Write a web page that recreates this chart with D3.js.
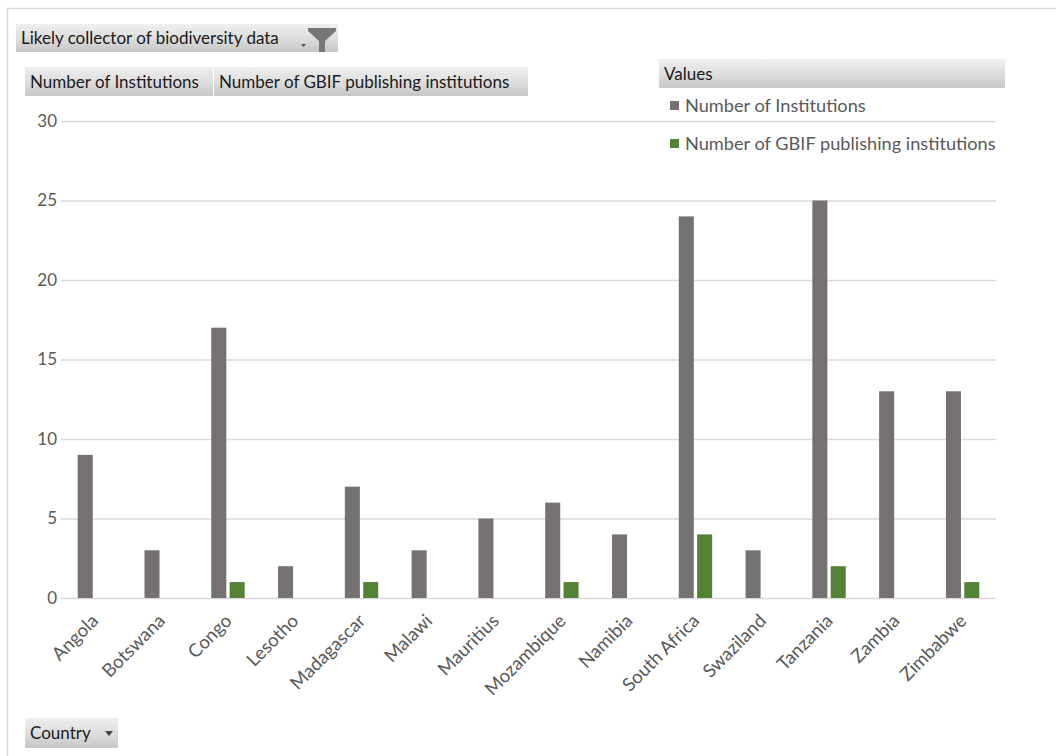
<!DOCTYPE html>
<html>
<head>
<meta charset="utf-8">
<script src="https://cdn.jsdelivr.net/npm/d3@7"></script>
<style>
  html, body { margin: 0; padding: 0; background: #fff; }
  svg { display: block; font-family: Lato, "Open Sans", sans-serif; }
</style>
</head>
<body>
<svg id="chart" width="1056" height="756"></svg>
<script>
// Institutions per country, split by whether they publish to GBIF
const countries = ["Angola", "Botswana", "Congo", "Lesotho", "Madagascar", "Malawi", "Mauritius",
  "Mozambique", "Namibia", "South Africa", "Swaziland", "Tanzania", "Zambia", "Zimbabwe"];
const institutions = [9, 3, 17, 2, 7, 3, 5, 6, 4, 24, 3, 25, 13, 13];
const gbifPublishers = [0, 0, 1, 0, 1, 0, 0, 1, 0, 4, 0, 2, 0, 1];
const seriesNames = ["Number of Institutions", "Number of GBIF publishing institutions"];
const seriesColors = ["#767171", "#548235"];
const yTicks = [0, 5, 10, 15, 20, 25, 30];

const FONT = "Lato, 'Open Sans', sans-serif";
const svg = d3.select("#chart");

// gradient used by the pivot field buttons
const defs = svg.append("defs");
const grad = defs.append("linearGradient").attr("id", "btn").attr("x1", 0).attr("y1", 0).attr("x2", 0).attr("y2", 1);
grad.append("stop").attr("offset", "0%").attr("stop-color", "#efefef");
grad.append("stop").attr("offset", "55%").attr("stop-color", "#dcdcdc");
grad.append("stop").attr("offset", "100%").attr("stop-color", "#c6c6c6");

// chart area border
svg.append("rect").attr("x", 7.5).attr("y", 8.5).attr("width", 1100).attr("height", 800)
  .attr("fill", "none").attr("stroke", "#d9d9d9").attr("stroke-width", 1.5);

const plot = { left: 61, right: 996, top: 121, bottom: 598 };

const x = d3.scaleBand().domain(countries).range([plot.left, plot.right]).paddingInner(0.5).paddingOuter(0.25);
const xInner = d3.scaleBand().domain([0, 1]).range([0, x.bandwidth()]).paddingInner(0.18);
const y = d3.scaleLinear().domain([0, 30]).range([plot.bottom, plot.top]);

// gridlines + y labels
const yAxis = d3.axisLeft(y).tickValues(yTicks).tickSize(-(plot.right - plot.left)).tickPadding(6);
const gy = svg.append("g").attr("transform", `translate(${plot.left},0)`).call(yAxis)
  .attr("font-family", FONT).attr("font-size", 17);
gy.select(".domain").remove();
gy.selectAll(".tick line").attr("stroke", "#d9d9d9").attr("stroke-width", 1.3);
gy.selectAll(".tick text").attr("fill", "#595959").attr("x", -4);

// bars
const rows = countries.map((c, i) => ({ c, v: [institutions[i], gbifPublishers[i]] }));
const groups = svg.append("g").selectAll("g").data(rows).join("g")
  .attr("transform", d => `translate(${x(d.c)},0)`);
groups.selectAll("rect").data(d => d.v.map((v, k) => ({ v, k })).filter(e => e.v > 0)).join("rect")
  .attr("x", e => xInner(e.k))
  .attr("width", xInner.bandwidth())
  .attr("y", e => y(e.v))
  .attr("height", e => y(0) - y(e.v))
  .attr("fill", e => seriesColors[e.k]);

// x labels, rotated
const xAxis = d3.axisBottom(x).tickSize(0).tickPadding(0);
const gx = svg.append("g").attr("transform", `translate(0,${plot.bottom})`).call(xAxis)
  .attr("font-family", FONT).attr("font-size", 18.5);
gx.select(".domain").remove();
gx.selectAll(".tick text")
  .attr("fill", "#595959")
  .attr("text-anchor", "end")
  .attr("dy", 0)
  .attr("y", 0)
  .attr("transform", "translate(5,24) rotate(-45)");

// pivot field buttons
function button(xp, yp, w, h, label, fs) {
  const g = svg.append("g").attr("transform", `translate(${xp},${yp})`);
  g.append("rect").attr("width", w).attr("height", h).attr("fill", "url(#btn)");
  g.append("text").attr("x", 5).attr("y", h / 2 + 6).attr("font-size", fs).attr("fill", "#1a1a1a").text(label);
  return g;
}
const f = button(16, 24, 322, 28, "Likely collector of biodiversity data", 17);
// funnel icon
f.append("path").attr("d", "M292,4 L320,4 L320,7 L309,17 L309,28 L303,28 L303,17 L292,7 Z").attr("fill", "#777");
f.append("path").attr("d", "M285,20 L290,20 L287.5,23 Z").attr("fill", "#555");

button(25, 67, 188, 29, seriesNames[0], 17);
button(214, 67, 314, 29, seriesNames[1], 17);
button(659, 59, 346, 29, "Values", 17);

const c = button(25, 718, 93, 30, "Country", 17);
c.append("path").attr("d", "M80,13 L88,13 L84,18 Z").attr("fill", "#444");

// legend
const leg = svg.append("g").selectAll("g").data(seriesNames).join("g")
  .attr("transform", (d, i) => `translate(670,${101 + i * 38})`);
leg.append("rect").attr("width", 9).attr("height", 9).attr("fill", (d, i) => seriesColors[i]);
leg.append("text").attr("x", 15).attr("y", 11).attr("font-size", 18.2).attr("fill", "#595959").text(d => d);
</script>
</body>
</html>
